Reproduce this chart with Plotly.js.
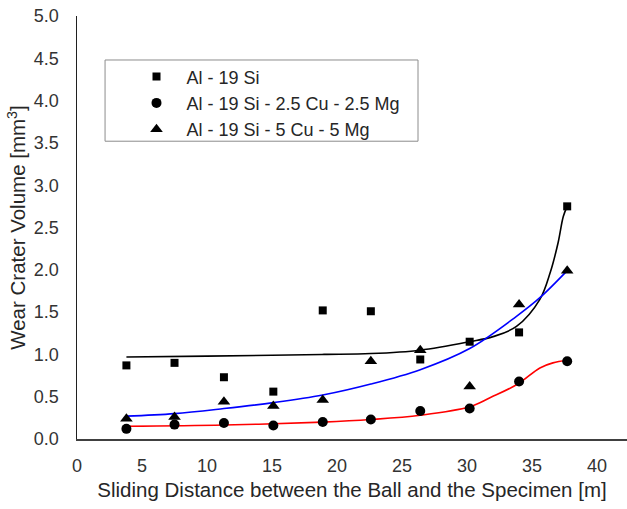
<!DOCTYPE html>
<html>
<head>
<meta charset="utf-8">
<script src="https://cdn.plot.ly/plotly-3.0.1.min.js"></script>
<style>html,body{margin:0;padding:0;background:#fff;}#chart{width:627px;height:509px;}</style>
</head>
<body>
<div id="chart"></div>
<script>
// Measured data
const distance = [3.8, 7.5, 11.3, 15.1, 18.9, 22.6, 26.4, 30.2, 34.0, 37.7];
const alSi = [0.87, 0.90, 0.73, 0.56, 1.52, 1.51, 0.94, 1.15, 1.26, 2.75];
const alSiCuMg25 = [0.12, 0.17, 0.19, 0.16, 0.20, 0.23, 0.33, 0.36, 0.68, 0.92];
const alSiCuMg5 = [0.24, 0.26, 0.44, 0.39, 0.46, 0.92, 1.05, 0.62, 1.59, 1.99];

// Trend curves
const fitBlackX = [3.8, 10, 15, 19, 22.6, 26.4, 30.2, 32, 33.8, 35.6, 36.4, 37.0, 37.4, 37.7];
const fitBlackY = [0.97, 0.98, 0.99, 1.00, 1.01, 1.05, 1.15, 1.21, 1.33, 1.65, 1.97, 2.32, 2.63, 2.75];
const fitRedX = [3.8, 11.3, 18.9, 22.6, 26.4, 30.2, 31.8, 33.9, 35.6, 36.6, 37.7];
const fitRedY = [0.15, 0.165, 0.20, 0.23, 0.28, 0.38, 0.49, 0.65, 0.84, 0.90, 0.93];
const fitBlueX = [3.8, 7.5, 11.3, 15.1, 18.9, 22.6, 26.4, 30.2, 33.8, 35.6, 37.7];
const fitBlueY = [0.27, 0.30, 0.36, 0.43, 0.52, 0.65, 0.82, 1.07, 1.45, 1.67, 1.99];

const seriesNames = ['Al - 19 Si', 'Al - 19 Si - 2.5 Cu - 2.5 Mg', 'Al - 19 Si - 5 Cu - 5 Mg'];

const font = 'Liberation Sans, Arial, sans-serif';

const traces = [
  {x: fitBlackX, y: fitBlackY, mode: 'lines', line: {color: '#000000', width: 1.6, shape: 'spline'}, showlegend: false, hoverinfo: 'skip'},
  {x: fitRedX, y: fitRedY, mode: 'lines', line: {color: '#ff0000', width: 1.6, shape: 'spline'}, showlegend: false, hoverinfo: 'skip'},
  {x: fitBlueX, y: fitBlueY, mode: 'lines', line: {color: '#0000ff', width: 1.6, shape: 'spline'}, showlegend: false, hoverinfo: 'skip'},
  {x: distance, y: alSi, name: seriesNames[0], mode: 'markers', marker: {symbol: 'square', size: 8, color: '#000000'}},
  {x: distance, y: alSiCuMg25, name: seriesNames[1], mode: 'markers', marker: {symbol: 'circle', size: 10, color: '#000000'}},
  {x: distance, y: alSiCuMg5, name: seriesNames[2], mode: 'markers', marker: {symbol: 'triangle-up', size: 11, color: '#000000'}}
];

const layout = {
  width: 627, height: 509,
  margin: {l: 77, r: 0, t: 16, b: 70},
  paper_bgcolor: '#ffffff', plot_bgcolor: '#ffffff',
  font: {family: font, size: 18, color: '#333333'},
  showlegend: true,
  legend: {
    x: 0.09, y: 0.90, xanchor: 'left', yanchor: 'top',
    bgcolor: 'rgba(0,0,0,0)', borderwidth: 0,
    font: {family: font, size: 18, color: '#262626'},
    itemwidth: 50
  },
  xaxis: {
    range: [0, 42.3], dtick: 5, tick0: 0,
    showgrid: false, zeroline: false,
    showline: true, linecolor: '#404040', linewidth: 2,
    ticks: '', ticklabelstandoff: 9,
    tickfont: {family: font, size: 18, color: '#333333'},
    title: {text: 'Sliding Distance between the Ball and the Specimen [m]', font: {family: font, size: 20.5, color: '#262626'}, standoff: 8}
  },
  yaxis: {
    range: [0, 5], dtick: 0.5, tickformat: '.1f',
    showgrid: false, zeroline: false,
    showline: true, linecolor: '#202020', linewidth: 1.5,
    ticks: '', ticklabelstandoff: 13,
    tickfont: {family: font, size: 18, color: '#333333'},
    title: {text: 'Wear Crater Volume [mm<sup>3</sup>]', font: {family: font, size: 20.5, color: '#262626'}, standoff: 2}
  },
  shapes: [
    {type: 'rect', xref: 'paper', yref: 'paper', x0: 0.051, x1: 0.62, y0: 0.704, y1: 0.896,
     line: {color: '#8c8c8c', width: 1}, fillcolor: 'rgba(0,0,0,0)'}
  ]
};

Plotly.newPlot('chart', traces, layout, {displayModeBar: false, staticPlot: true});
</script>
</body>
</html>
